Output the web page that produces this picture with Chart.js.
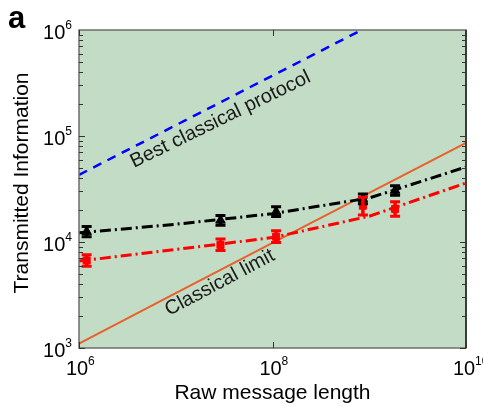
<!DOCTYPE html>
<html><head><meta charset="utf-8">
<script src="https://cdn.jsdelivr.net/npm/chart.js@4"></script>
<style>html,body{margin:0;padding:0;background:#fff}#wrap{width:483px;height:406px;position:relative}</style>
</head><body><div id="wrap"><canvas id="c"></canvas></div>
<script>
// ---- data ----
const bestX = [1e6, 1e10];
const bestClassical = [4.3e4, 3.2e6];
const fitX = [1e6, 1e7, 1e8, 1e9, 1e10];
const classicalLimit = [1.1e3, 3.3e3, 9.8e3, 2.9e4, 8.6e4];
const blackFit = [1.22e4, 1.47e4, 1.85e4, 2.6e4, 5.1e4];
const redFit = [6.6e3, 8.5e3, 1.1e4, 1.75e4, 3.6e4];
const measX = [1.2e6, 2.9e7, 1.09e8, 8.6e8, 1.85e9];
const blackY = [1.25e4, 1.6e4, 1.93e4, 2.55e4, 3.06e4];
const blackLo = [1.12e4, 1.44e4, 1.74e4, 2.3e4, 2.76e4];
const blackHi = [1.4e4, 1.78e4, 2.15e4, 2.83e4, 3.4e4];
const redY = [6.7e3, 9.4e3, 1.12e4, 2.2e4, 2.05e4];
const redLo = [5.9e3, 8.3e3, 9.9e3, 1.8e4, 1.75e4];
const redHi = [7.6e3, 1.07e4, 1.28e4, 2.65e4, 2.4e4];
const xTicks = [1e6, 1e8, 1e10];
const xTickExp = ['6', '8', '10'];
const yTicks = [1e3, 1e4, 1e5, 1e6];
const yTickExp = ['3', '4', '5', '6'];
const xTitle = 'Raw message length';
const yTitle = 'Transmitted Information';
const panelLabel = 'a';
const notes = [
  {text: 'Best classical protocol', x: 3.7e6, y: 5.0e4, angle: -26},
  {text: 'Classical limit', x: 8.5e6, y: 2.0e3, angle: -28}
];

const pts = (xs, ys) => xs.map((x, i) => ({x, y: ys[i]}));
const FONT = '"Liberation Sans", Arial, sans-serif';

const decor = {
  id: 'decor',
  beforeDraw(chart) {
    const {ctx, chartArea: a} = chart;
    ctx.save();
    ctx.fillStyle = '#c2dcc6';
    ctx.fillRect(a.left, a.top, a.right - a.left, a.bottom - a.top);
    ctx.restore();
  },
  afterDatasetsDraw(chart) {
    const {ctx, chartArea: a, scales: {x, y}} = chart;
    ctx.save();
    // error bars
    const bars = (xs, lo, hi, col) => {
      ctx.strokeStyle = col; ctx.lineWidth = 3.5;
      xs.forEach((xv, i) => {
        const px = x.getPixelForValue(xv), p1 = y.getPixelForValue(lo[i]), p2 = y.getPixelForValue(hi[i]);
        ctx.beginPath(); ctx.moveTo(px, p1); ctx.lineTo(px, p2); ctx.stroke();
        ctx.lineWidth = 3;
        ctx.beginPath(); ctx.moveTo(px - 5, p1); ctx.lineTo(px + 5, p1);
        ctx.moveTo(px - 5, p2); ctx.lineTo(px + 5, p2); ctx.stroke();
        ctx.lineWidth = 3.5;
      });
    };
    bars(measX, blackLo, blackHi, '#000');
    bars(measX, redLo, redHi, '#ff0000');
    // annotations
    ctx.fillStyle = '#1a1a1a';
    ctx.font = '20px ' + FONT;
    ctx.textAlign = 'left'; ctx.textBaseline = 'alphabetic';
    notes.forEach(n => {
      ctx.save();
      ctx.translate(x.getPixelForValue(n.x), y.getPixelForValue(n.y));
      ctx.rotate(n.angle * Math.PI / 180);
      ctx.fillText(n.text, 0, 0);
      ctx.restore();
    });
    // frame
    ctx.strokeStyle = '#6e6e6e'; ctx.lineWidth = 1.5;
    ctx.strokeRect(a.left, a.top, a.right - a.left, a.bottom - a.top);
    ctx.strokeStyle = '#222'; ctx.lineWidth = 1.5;
    ctx.beginPath(); ctx.moveTo(a.right, a.top); ctx.lineTo(a.right, a.bottom); ctx.stroke();
    // ticks
    ctx.strokeStyle = '#333'; ctx.lineWidth = 1;
    for (let e = 3; e < 6; e++) {
      for (let m = 1; m < 10; m++) {
        const py = Math.round(y.getPixelForValue(m * Math.pow(10, e))) + 0.5;
        const len = m === 1 ? 6 : 4;
        ctx.beginPath();
        ctx.moveTo(a.left, py); ctx.lineTo(a.left + len, py);
        ctx.moveTo(a.right, py); ctx.lineTo(a.right - len, py);
        ctx.stroke();
      }
    }
    xTicks.forEach(v => {
      const px = Math.round(x.getPixelForValue(v)) + 0.5;
      ctx.beginPath();
      ctx.moveTo(px, a.bottom); ctx.lineTo(px, a.bottom - 6);
      ctx.moveTo(px, a.top); ctx.lineTo(px, a.top + 6);
      ctx.stroke();
    });
    // tick labels
    ctx.fillStyle = '#000';
    yTicks.forEach((v, i) => {
      const py = y.getPixelForValue(v);
      ctx.font = '12px ' + FONT; ctx.textAlign = 'right';
      const ew = ctx.measureText(yTickExp[i]).width;
      ctx.fillText(yTickExp[i], a.left - 7, py - 1);
      ctx.font = '20px ' + FONT;
      ctx.fillText('10', a.left - 7 - ew, py + 9);
    });
    xTicks.forEach((v, i) => {
      const px = x.getPixelForValue(v);
      ctx.font = '20px ' + FONT; ctx.textAlign = 'left';
      const w = ctx.measureText('10').width;
      ctx.fillText('10', px - 2 - w / 2, a.bottom + 27);
      ctx.font = '12px ' + FONT;
      ctx.fillText(xTickExp[i], px - 2 + w / 2, a.bottom + 17);
    });
    // titles
    ctx.font = '21px ' + FONT; ctx.textAlign = 'center';
    ctx.fillText(xTitle, (a.left + a.right) / 2, 399);
    ctx.save(); ctx.translate(28, 183); ctx.rotate(-Math.PI / 2);
    ctx.fillText(yTitle, 0, 0); ctx.restore();
    ctx.font = 'bold 31px ' + FONT; ctx.textAlign = 'left';
    ctx.fillText(panelLabel, 8, 28);
    ctx.restore();
  }
};

new Chart(document.getElementById('c'), {
  type: 'line',
  data: {
    datasets: [
      {data: pts(measX, blackY), showLine: false, pointStyle: 'triangle', pointRadius: 5.5, backgroundColor: '#000', borderColor: '#000', borderWidth: 1, order: 0},
      {data: pts(measX, redY), showLine: false, pointStyle: 'rect', pointRadius: 5, backgroundColor: '#ff0000', borderColor: '#ff0000', borderWidth: 1, order: 1},
      {data: pts(fitX, blackFit), borderColor: '#000', borderWidth: 3, borderDash: [11, 4, 2, 4], pointRadius: 0, order: 2},
      {data: pts(fitX, redFit), borderColor: '#ff0000', borderWidth: 3, borderDash: [11, 4, 2, 4], pointRadius: 0, order: 3},
      {data: pts(fitX, classicalLimit), borderColor: '#e8602c', borderWidth: 2, pointRadius: 0, order: 4},
      {data: pts(bestX, bestClassical), borderColor: '#0000ff', borderWidth: 2.5, borderDash: [9, 7], pointRadius: 0, order: 5}
    ]
  },
  options: {
    responsive: true, maintainAspectRatio: false, animation: false,
    layout: {padding: {left: 79, top: 30, right: 17, bottom: 58}},
    plugins: {legend: {display: false}, tooltip: {enabled: false}},
    elements: {line: {tension: 0}},
    scales: {
      x: {type: 'logarithmic', min: 1e6, max: 1e10, display: false},
      y: {type: 'logarithmic', min: 1e3, max: 1e6, display: false}
    }
  },
  plugins: [decor]
});
</script></body></html>
